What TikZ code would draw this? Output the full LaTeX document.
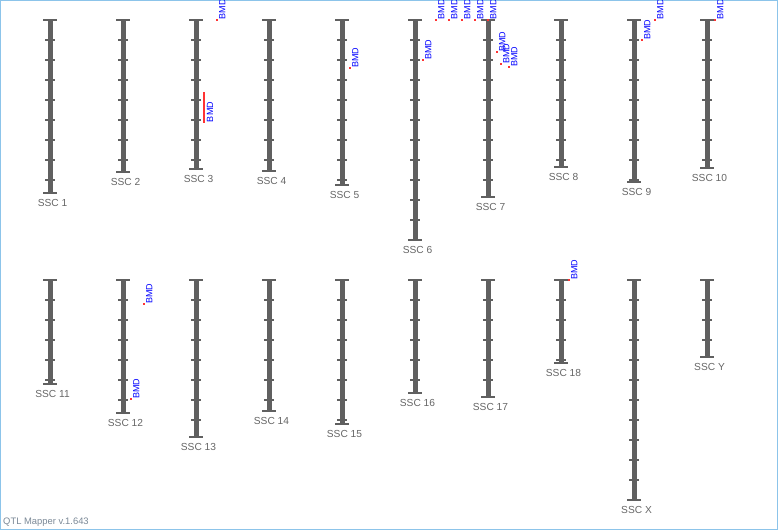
\documentclass[tikz,border=0pt]{standalone}
\usepackage{fontspec}
\setmainfont{Liberation Sans}
\usepackage{tikz}
\usetikzlibrary{
  positioning
}
\definecolor{chrom}{HTML}{606060}
\definecolor{chromtext}{HTML}{666666}
\definecolor{qtlred}{HTML}{FF3333}
\definecolor{qtlblue}{HTML}{0000FF}
\definecolor{frameblue}{HTML}{8CC4EA}
\definecolor{footgrey}{HTML}{7A8896}
\tikzset{
  frame/.style={
    draw=frameblue,
    line width=1pt
  },
  chrombar/.style={
    draw=chrom,
    line width=5pt
  },
  chromcap/.style={
    draw=chrom,
    line width=1.6pt
  },
  chromtick/.style={
    draw=chrom,
    line width=1.2pt
  },
  chromlabel/.style={
    text=chromtext,
    inner sep=0pt,
    font=\fontsize{10.2}{12}\selectfont
  },
  qtldot/.style={
    fill=qtlred,
    minimum width=2.4pt,
    minimum height=2.8pt,
    inner sep=0pt
  },
  qtlspan/.style={
    draw=qtlred,
    line width=1.8pt
  },
  qtllabel/.style={
    text=qtlblue,
    rotate=90,
    anchor=north west,
    inner sep=0.3pt,
    font=\fontsize{9}{10}\selectfont
  },
  footer/.style={
    text=footgrey,
    inner sep=0pt,
    font=\fontsize{9.4}{11}\selectfont
  }
}

\begin{document}
\begin{tikzpicture}[x=1pt,y=-1pt]
  \useasboundingbox (0,0) rectangle (778,530);
  \draw[frame] (0.5,0.5) rectangle (777.5,529.5);

  % chromosomes: name / x / top / bottom
  \foreach \name/\cx/\ctop/\cbot in {
      1/50/20/193, 2/123/20/172, 3/196/20/169, 4/269/20/171,
      5/342/20/185, 6/415/20/240, 7/488/20/197, 8/561/20/167,
      9/634/20/182, 10/707/20/168,
      11/50/280/384, 12/123/280/413, 13/196/280/437, 14/269/280/411,
      15/342/280/424, 16/415/280/393, 17/488/280/397, 18/561/280/363,
      X/634/280/500, Y/707/280/357}{
    \coordinate (ssc\name-top) at (\cx,\ctop);
    \coordinate (ssc\name-bot) at (\cx,\cbot);
    \draw[chrombar] (ssc\name-top) -- (ssc\name-bot);
    \draw[chromcap] (\cx-7,\ctop) -- (\cx+7,\ctop);
    \draw[chromcap] (\cx-7,\cbot) -- (\cx+7,\cbot);
    \pgfmathtruncatemacro\nticks{floor((\cbot-\ctop-1)/20)}
    \foreach \k in {1,...,\nticks}
      \draw[chromtick] (\cx-5,\ctop+20*\k) -- ++(10,0);
    \node[chromlabel, below=6pt of ssc\name-bot, xshift=2.5pt] (lab\name) {SSC \name};
  }

  % QTL peaks
  \foreach \q/\qx/\qy in {
      a/217/20, b/350/68, c/423/60,
      d/436/20, e/449/20, f/462/20, g/475/20, h/488/20,
      i/497/52, j/501/64, k/509/67,
      l/642/40, m/655/20, n/715/20,
      o/144/304, p/131/399, q/569/280}{
    \node[qtldot] (qtl\q) at (\qx,\qy) {};
    \node[qtllabel] (qtl\q-lab) at ([xshift=1.6pt]qtl\q.center) {BMD};
  }

  % QTL interval on SSC 3
  \coordinate (span-top) at (204,92);
  \coordinate (span-bot) at (204,122.5);
  \draw[qtlspan] (span-top) -- (span-bot);
  \node[qtllabel] (span-lab) at ([xshift=2.5pt]span-bot) {BMD};

  \node[footer, anchor=south west] (version) at (3,526.5) {QTL Mapper v.1.643};
\end{tikzpicture}
\end{document}
